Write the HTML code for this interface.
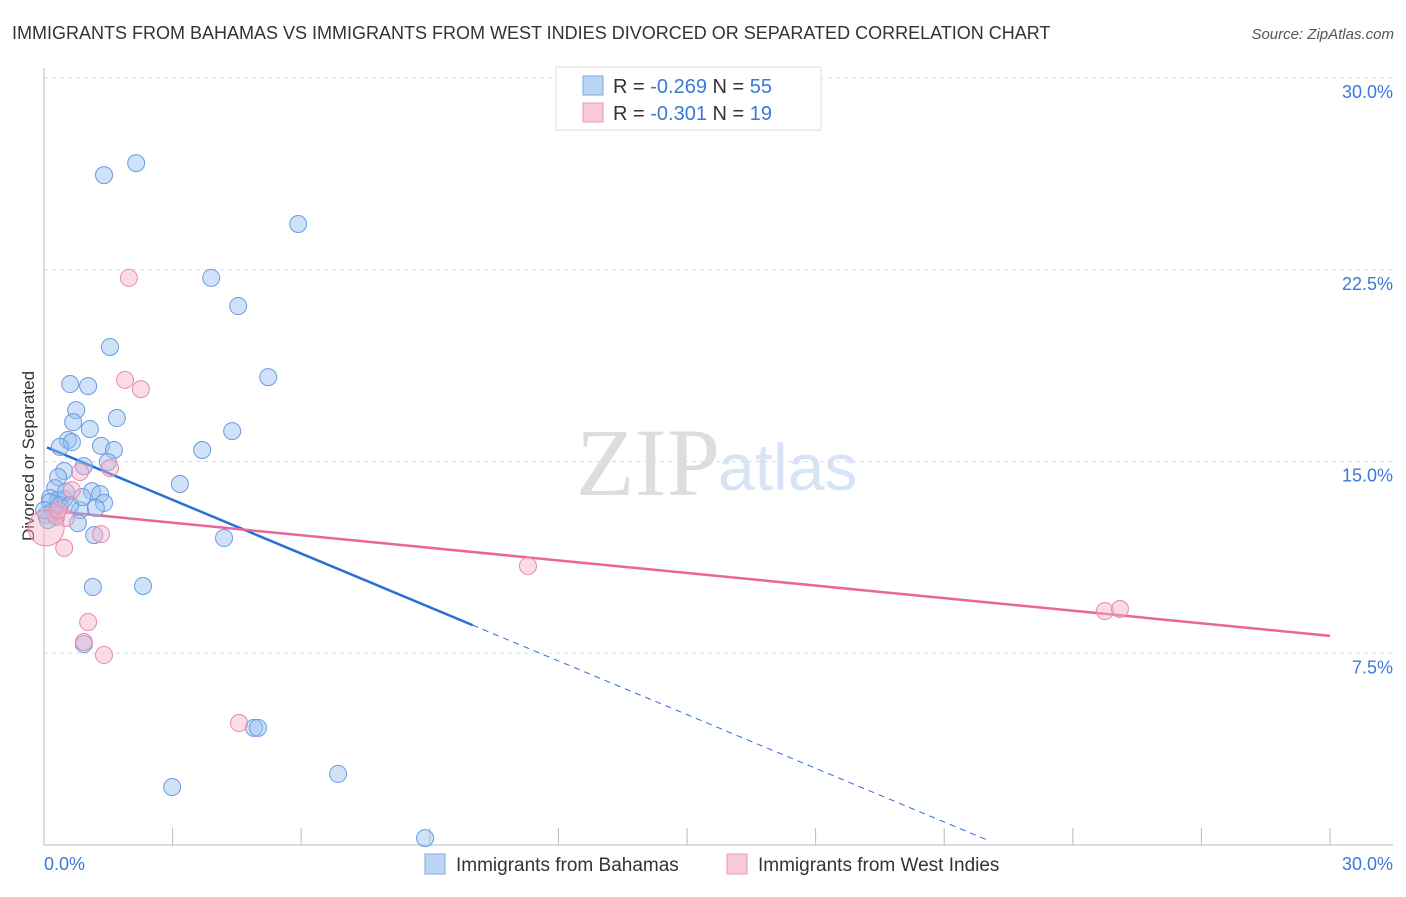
<!DOCTYPE html>
<html><head><meta charset="utf-8"><style>
body{margin:0;background:#fff;font-family:"Liberation Sans",sans-serif;}
</style></head><body>
<svg width="1406" height="892" xmlns="http://www.w3.org/2000/svg" font-family="Liberation Sans, sans-serif">
<text x="12" y="39" font-size="18" fill="#333">IMMIGRANTS FROM BAHAMAS VS IMMIGRANTS FROM WEST INDIES DIVORCED OR SEPARATED CORRELATION CHART</text>
<text x="1394" y="39" font-size="15" fill="#555" font-style="italic" text-anchor="end">Source: ZipAtlas.com</text>
<text x="34" y="456" font-size="17" fill="#333" text-anchor="middle" transform="rotate(-90 34 456)">Divorced or Separated</text>
<text x="720" y="495" font-size="96" fill="#ddd" text-anchor="end" font-family="Liberation Serif, serif">ZIP</text>
<text x="718" y="490" font-size="66" fill="#d6e4f5">atlas</text>
<g id="grid"></g><g id="axes"></g><g id="lines"></g><g id="points"></g>
<g>
<rect x="556" y="67" width="265" height="63" fill="#fff" stroke="#ddd"/>
<rect x="583" y="76" width="20" height="19" fill="#bcd5f5" stroke="#7ea8e0"/>
<text x="613" y="93" font-size="20" fill="#333">R = <tspan fill="#3b78d8">-0.269</tspan>   N = <tspan fill="#3b78d8">55</tspan></text>
<rect x="583" y="103" width="20" height="19" fill="#f9cbd8" stroke="#e99ab0"/>
<text x="613" y="120" font-size="20" fill="#333">R = <tspan fill="#3b78d8">-0.301</tspan>   N = <tspan fill="#3b78d8"> 19</tspan></text>
</g>
<g>
<rect x="425" y="854" width="20" height="20" fill="#bcd5f5" stroke="#7ea8e0"/>
<text x="456" y="871" font-size="19" fill="#333">Immigrants from Bahamas</text>
<rect x="727" y="854" width="20" height="20" fill="#f9cbd8" stroke="#e99ab0"/>
<text x="758" y="871" font-size="19" fill="#333">Immigrants from West Indies</text>
</g>
</svg>
<script>
const yTicks=[7.5,15,22.5,30];
const xTickLabels=["0.0%","30.0%"];
const blueX=[2.15,1.40,5.93,3.90,4.53,1.54,5.23,0.61,1.03,0.75,1.70,0.68,1.07,4.39,0.56,0.65,0.37,1.33,1.63,3.69,1.49,0.93,0.47,0.33,0.26,3.17,1.12,1.31,0.14,0.47,0.33,0.14,1.40,0.84,1.21,0.19,0.05,0.28,0.79,1.17,4.20,1.14,2.31,0.93,4.90,4.99,6.86,2.99,8.89,0.09,0.37,0.51,0.61,0.89,0.0];
const blueY=[26.67,26.20,24.29,22.18,21.08,19.48,18.30,18.03,17.95,17.01,16.70,16.54,16.27,16.19,15.84,15.76,15.57,15.61,15.45,15.45,14.98,14.82,14.63,14.39,13.96,14.12,13.84,13.73,13.57,13.53,13.49,13.41,13.38,13.10,13.18,13.02,12.91,12.83,12.59,12.12,12.01,10.09,10.13,7.86,4.58,4.58,2.78,2.27,0.27,12.71,13.30,13.81,13.30,13.61,13.10];
const pinkX=[1.98,1.89,2.26,1.54,0.84,0.65,0.28,0.51,1.33,0.47,11.29,1.03,0.93,1.40,4.55,24.75,25.10,0.05,0.33];
const pinkY=[22.18,18.19,17.83,14.74,14.59,13.88,12.91,12.79,12.16,11.62,10.91,8.72,7.94,7.43,4.77,9.15,9.23,12.40,13.10];
const blueTrend=[15.6,-0.7,0.07,10.0,22.0]; // intercept, slope, start, solidEnd, dashEnd
const pinkTrend=[13.1,-0.164,0,30];
const NS="http://www.w3.org/2000/svg";
const sx=v=>44+v/30*1286, sy=v=>845-v/30*767;
function mk(p,t,a){const e=document.createElementNS(NS,t);for(const k in a)e.setAttribute(k,a[k]);document.getElementById(p).appendChild(e);return e;}
yTicks.forEach(t=>{
 const g=mk('grid','line',{x1:44,x2:1393,y1:sy(t),y2:sy(t),stroke:'#ddd','stroke-dasharray':'4,4'});
 
 
 const l=mk('grid','text',{x:1393,y:sy(t)+20,'font-size':18,fill:'#3b78d8','text-anchor':'end'});
 l.textContent=t.toFixed(1)+'%';
 
 
});
const ya=mk('axes','line',{x1:44,x2:44,y1:68,y2:845,stroke:'#bbb'});


const xa=mk('axes','line',{x1:44,x2:1393,y1:845,y2:845,stroke:'#bbb'});


for(let i=0;i<=10;i++){const t=mk('axes','line',{x1:sx(i*3),x2:sx(i*3),y1:828,y2:845,stroke:'#bbb'});
 
 }
[[0,'start',44],[30,'end',1393]].forEach((d,i)=>{const l=mk('axes','text',{x:d[2],y:870,'font-size':18,fill:'#3b78d8','text-anchor':d[1]});l.textContent=xTickLabels[i];
 
 });
const bt=x=>blueTrend[0]+blueTrend[1]*x;
const b1=mk('lines','line',{x1:sx(blueTrend[2]),y1:sy(bt(blueTrend[2])),x2:sx(blueTrend[3]),y2:sy(bt(blueTrend[3])),stroke:'#2a6fd6','stroke-width':2.5});


const b2=mk('lines','line',{x1:sx(blueTrend[3]),y1:sy(bt(blueTrend[3])),x2:sx(blueTrend[4]),y2:sy(bt(blueTrend[4])),stroke:'#2a6fd6','stroke-width':1,'stroke-dasharray':'6,5'});


const pt=x=>pinkTrend[0]+pinkTrend[1]*x;
const p1=mk('lines','line',{x1:sx(pinkTrend[2]),y1:sy(pt(pinkTrend[2])),x2:sx(pinkTrend[3]),y2:sy(pt(pinkTrend[3])),stroke:'#e8669a','stroke-width':2.5});


blueX.forEach((x,i)=>{const c=mk('points','circle',{cx:sx(x),cy:sy(blueY[i]),r:8.5,fill:'rgba(150,190,240,0.45)',stroke:'#6a9be0','stroke-width':1});
 
 });
pinkX.forEach((x,i)=>{const c=mk('points','circle',{cx:sx(x),cy:sy(pinkY[i]),r:i==17?18:8.5,fill:'rgba(245,175,200,0.45)',stroke:'#e88aab','stroke-width':1});
 
 });
</script>
</body></html>
